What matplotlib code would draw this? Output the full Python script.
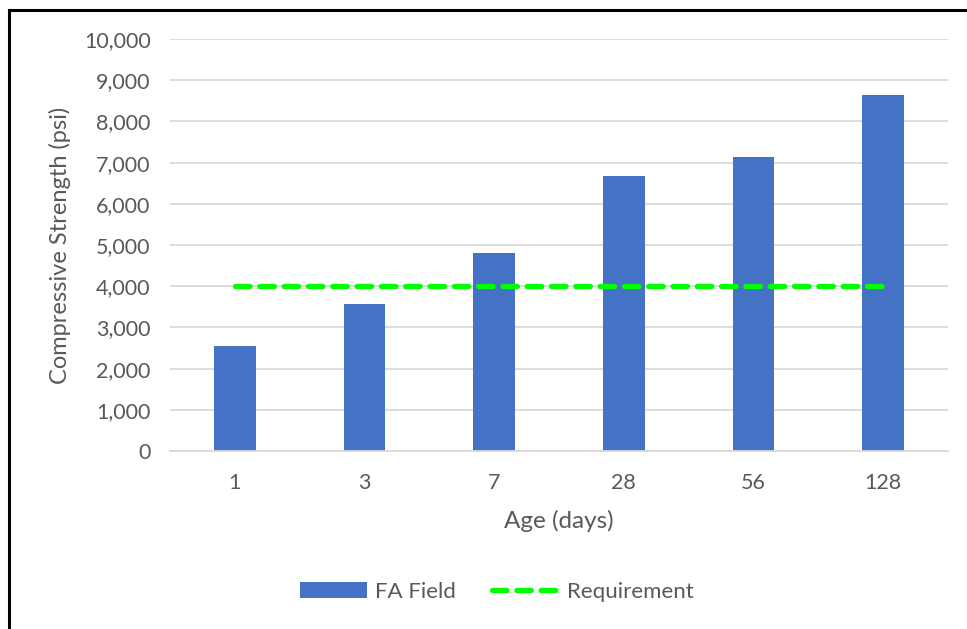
import matplotlib.pyplot as plt
from matplotlib.lines import Line2D
from matplotlib.ticker import FuncFormatter

plt.rcParams['font.family'] = ['Lato', 'DejaVu Sans']
plt.rcParams['lines.scale_dashes'] = False

# chart data
ages = ["1", "3", "7", "28", "56", "128"]
fa_field = [2560, 3570, 4810, 6680, 7130, 8640]
requirement = [4000, 4000, 4000, 4000, 4000, 4000]

grey = "#595959"

fig = plt.figure(figsize=(9.67, 6.29), dpi=100)
ax = fig.add_axes([170 / 967, 178 / 629, 778 / 967, 412 / 629])

x = list(range(len(ages)))
bars = ax.bar(x, fa_field, width=0.32, color="#4472C4", label="FA Field", zorder=2)
line, = ax.plot(x, requirement, color="#00FF00", linewidth=3.8, linestyle=(0, (10.5, 7)),
                dash_capstyle="round", label="Requirement", zorder=3)

ax.set_xlim(-0.5, len(ages) - 0.5)
ax.set_ylim(0, 10000)
ax.set_yticks(range(0, 10001, 1000))
ax.yaxis.set_major_formatter(FuncFormatter(lambda v, p: f"{int(v):,}"))
ax.set_xticks(x)
ax.set_xticklabels(ages)

ax.grid(axis="y", color="#d9d9d9", linewidth=1.3, zorder=0)
ax.set_axisbelow(True)
for s in ["top", "right", "left"]:
    ax.spines[s].set_visible(False)
ax.spines["bottom"].set_color("#d9d9d9")
ax.spines["bottom"].set_linewidth(1.3)
ax.tick_params(axis="both", length=0, labelsize=15.5, labelcolor=grey)
ax.tick_params(axis="x", pad=16)
ax.tick_params(axis="y", pad=14)

ax.set_xlabel("Age (days)", fontsize=17.5, color=grey, labelpad=12)
ax.set_ylabel("Compressive Strength (psi)", fontsize=17, color=grey, labelpad=9)

ax.legend([bars, line], ["FA Field", "Requirement"], loc="center",
          bbox_to_anchor=(497 / 967, 1 - 592 / 629),
          bbox_transform=fig.transFigure, ncol=2, frameon=False,
          fontsize=16, labelcolor=grey, handlelength=3.0, columnspacing=1.6,
          handletextpad=0.4)

# border of the chart box (left and top edges visible)
fig.add_artist(Line2D([9 / 967, 9 / 967], [0, 1 - 10 / 629], color="black",
                      linewidth=2.2, transform=fig.transFigure))
fig.add_artist(Line2D([9 / 967, 1], [1 - 10 / 629, 1 - 10 / 629], color="black",
                      linewidth=2.2, transform=fig.transFigure))

fig.savefig("out.png", dpi=100)
